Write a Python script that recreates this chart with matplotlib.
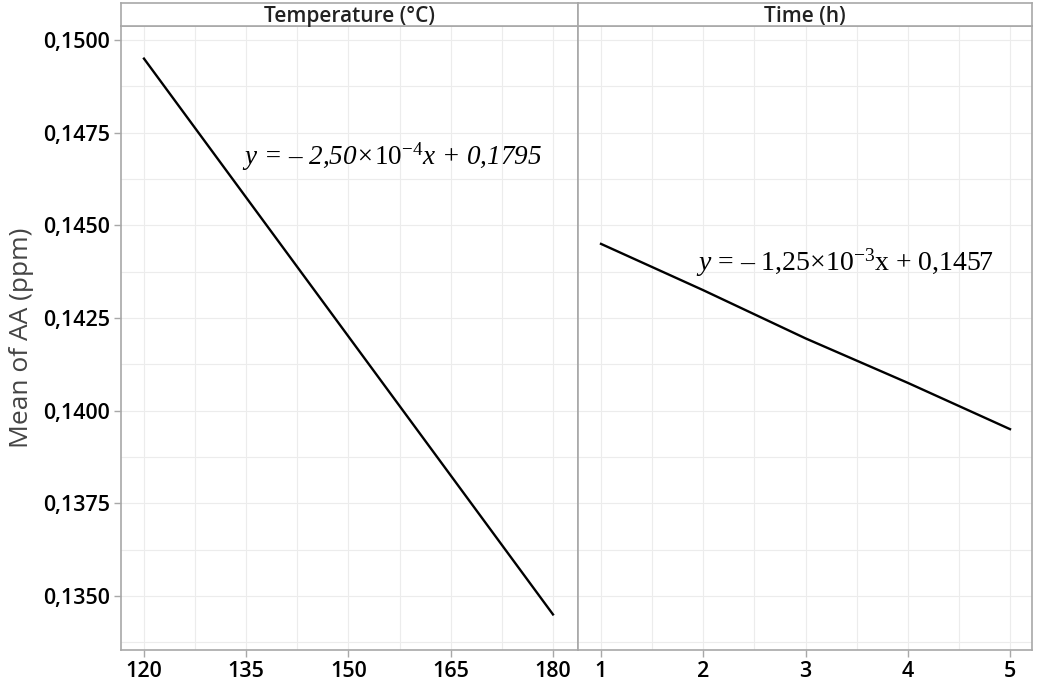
import matplotlib.pyplot as plt
from matplotlib.ticker import MultipleLocator

plt.rcParams['font.family'] = ['Open Sans', 'DejaVu Sans']
plt.rcParams['mathtext.fontset'] = 'custom'
plt.rcParams['mathtext.rm'] = 'Liberation Serif'
plt.rcParams['mathtext.it'] = 'Liberation Serif:italic'

# main effects means
temp_levels = [120, 150, 180]
temp_means = [0.1495, 0.1420, 0.1345]
time_levels = [1, 2, 3, 4, 5]
time_means = [0.1445, 0.14325, 0.14195, 0.14075, 0.1395]

panel_titles = ["Temperature (°C)", "Time (h)"]
y_ticks = [0.1350, 0.1375, 0.1400, 0.1425, 0.1450, 0.1475, 0.1500]

spine_col = '#a8a8a8'
grid_col = '#ececec'

fig = plt.figure(figsize=(10.37, 6.82), dpi=100)
W, H = 1037, 682
left, right, top, bottom = 121, 1032, 26, 650
mid = 578
ax1 = fig.add_axes([left / W, 1 - bottom / H, (mid - left) / W, (bottom - top) / H])
ax2 = fig.add_axes([mid / W, 1 - bottom / H, (right - mid) / W, (bottom - top) / H], sharey=ax1)

ax1.plot(temp_levels, temp_means, color='black', lw=1.7)
ax2.plot(time_levels, time_means, color='black', lw=1.7)

ax1.set_xlim(116.63, 183.67)
ax2.set_xlim(0.775, 5.215)
ax1.set_ylim(0.13354, 0.15038)
ax1.set_xticks([120, 135, 150, 165, 180])
ax1.xaxis.set_minor_locator(MultipleLocator(7.5))
ax2.set_xticks([1, 2, 3, 4, 5])
ax2.xaxis.set_minor_locator(MultipleLocator(0.5))
ax1.set_yticks(y_ticks)
ax1.set_yticklabels([f"{v:.4f}".replace('.', ',') for v in y_ticks])
ax1.yaxis.set_minor_locator(MultipleLocator(0.00125))

for ax in (ax1, ax2):
    ax.grid(True, which='both', color=grid_col, lw=0.8)
    ax.set_axisbelow(True)
    for s in ax.spines.values():
        s.set_color(spine_col)
        s.set_linewidth(1.2)
    ax.tick_params(which='major', colors=spine_col, labelcolor='black', labelsize=15.5,
                   length=5, width=1, pad=3)
    ax.tick_params(which='minor', length=0)
    for lab in ax.get_xticklabels() + ax.get_yticklabels():
        lab.set_fontweight('semibold')
ax2.tick_params(axis='y', which='both', left=False, labelleft=False)

ax1.set_ylabel("Mean of AA (ppm)", fontsize=19, color='#444444')
ax1.yaxis.set_label_coords(-0.19, 0.5)

# strips
for x0, x1, t in [(left, mid, panel_titles[0]), (mid, right, panel_titles[1])]:
    sax = fig.add_axes([x0 / W, 1 - top / H, (x1 - x0) / W, (top - 3) / H])
    sax.set_xticks([])
    sax.set_yticks([])
    for s in sax.spines.values():
        s.set_color(spine_col)
        s.set_linewidth(1.2)
    sax.text(0.5, 0.42, t, ha='center', va='center', fontsize=15, fontweight='semibold',
             color='#222222', transform=sax.transAxes)

ax1.text(242 / W, 1 - 165 / H, r'y = – 2,50×$\mathrm{10}^{-4}$x + 0,1795',
         transform=fig.transFigure, fontsize=19.5, va='baseline', ha='left',
         family='Liberation Serif', style='italic')
ax2.text(696 / W, 1 - 271 / H, r'$\mathit{y}$ = – 1,25×$\mathrm{10}^{-3}$x + 0,1457',
         transform=fig.transFigure, fontsize=20, va='baseline', ha='left',
         family='Liberation Serif')

fig.savefig('out.png', dpi=100)
